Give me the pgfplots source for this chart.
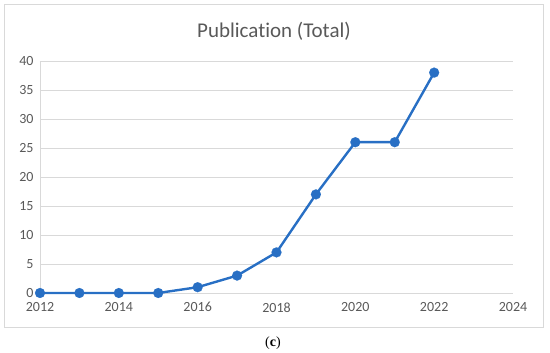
\documentclass[border=0pt]{standalone}
\usepackage{pgfplots}
\pgfplotsset{compat=1.18}
\usepackage{fontspec}
\setmainfont{Carlito}[Ligatures=NoCommon]
\newfontfamily\capfont{Liberation Serif}
\definecolor{lineblue}{RGB}{40,111,196}
\definecolor{txtgray}{RGB}{89,89,89}
\definecolor{gridgray}{RGB}{217,217,217}
\begin{document}
\begin{tikzpicture}
\useasboundingbox (-40pt,-60pt) rectangle (510pt,293pt);
\draw[gridgray, line width=0.9pt] (-36pt,-34pt) rectangle (503pt,289pt);
\begin{axis}[
  scale only axis,
  width=473pt, height=232pt,
  xmin=2012, xmax=2024, ymin=0, ymax=40,
  xtick={2012,2014,...,2024}, ytick={0,5,...,40},
  /pgf/number format/1000 sep={},
  /pgf/number format/assume math mode=true,
  axis x line*=bottom, axis y line*=left,
  axis line style={gridgray, line width=0.8pt, -},
  x axis line style={draw=none},
  ymajorgrids, grid style={gridgray, line width=0.8pt},
  major tick length=0pt,
  tick label style={font=\fontsize{14}{16}\selectfont, text=txtgray},
  xticklabel style={yshift=-6pt},
  yticklabel style={xshift=-3pt},
  clip=false,
]
\addplot[color=lineblue, line width=2.4pt, mark=*, mark size=5pt, mark options={fill=lineblue, draw=lineblue, line width=0.1pt, solid}]
coordinates {
(2012,0) (2013,0) (2014,0) (2015,0) (2016,1) (2017,3) (2018,7) (2019,17) (2020,26) (2021,26) (2022,38)
};
\end{axis}
\node[text=txtgray, font=\fontsize{21}{24}\selectfont] at (234pt,262pt) {Publication (Total)};
\node[font=\capfont\fontsize{14}{16}\selectfont] at (233pt,-50pt) {(\textbf{c})};
\end{tikzpicture}
\end{document}
